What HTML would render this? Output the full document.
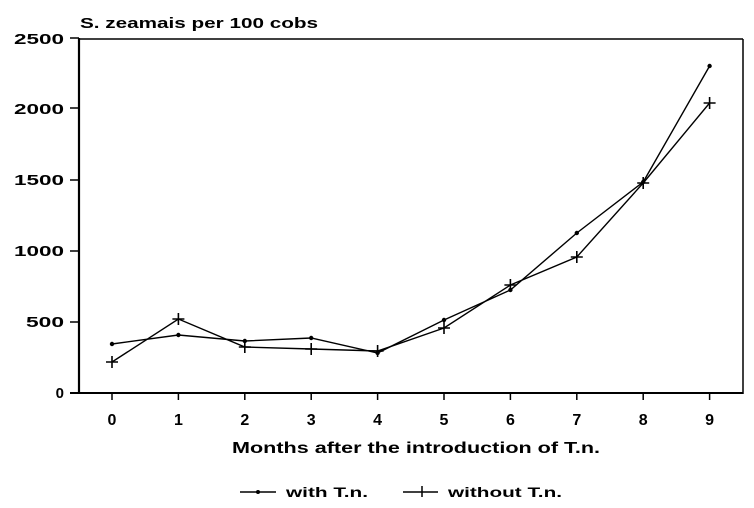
<!DOCTYPE html>
<html>
<head>
<meta charset="utf-8">
<style>
  html, body { margin:0; padding:0; background:#fff; }
  svg { display:block; }
  text { font-family: "Liberation Sans", Arial, sans-serif; font-weight: bold; fill:#000; }
</style>
</head>
<body>
<svg width="754" height="508" viewBox="0 0 754 508" xmlns="http://www.w3.org/2000/svg">
  <!-- title -->
  <text x="80" y="28" font-size="15" textLength="238" lengthAdjust="spacingAndGlyphs">S. zeamais per 100 cobs</text>

  <!-- frame -->
  <line x1="79" y1="38" x2="79" y2="394" stroke="#000" stroke-width="2.2"/>
  <line x1="79" y1="39" x2="743" y2="39" stroke="#000" stroke-width="1.5"/>
  <line x1="743" y1="39" x2="743" y2="394" stroke="#000" stroke-width="1.5"/>
  <line x1="70" y1="393" x2="743" y2="393" stroke="#000" stroke-width="2"/>

  <!-- y ticks -->
  <g stroke="#000" stroke-width="1.5">
    <line x1="70" y1="38" x2="79" y2="38"/>
    <line x1="70" y1="108" x2="79" y2="108"/>
    <line x1="70" y1="180" x2="79" y2="180"/>
    <line x1="70" y1="251" x2="79" y2="251"/>
    <line x1="70" y1="322" x2="79" y2="322"/>
  </g>
  <g font-size="15" text-anchor="end">
    <text x="64" y="44" textLength="50" lengthAdjust="spacingAndGlyphs">2500</text>
    <text x="64" y="114" textLength="50" lengthAdjust="spacingAndGlyphs">2000</text>
    <text x="64" y="185" textLength="50" lengthAdjust="spacingAndGlyphs">1500</text>
    <text x="64" y="256" textLength="50" lengthAdjust="spacingAndGlyphs">1000</text>
    <text x="64" y="327" textLength="38" lengthAdjust="spacingAndGlyphs">500</text>
    <text x="64" y="398">0</text>
  </g>

  <!-- x ticks -->
  <g stroke="#000" stroke-width="1.5">
    <line x1="112" y1="393" x2="112" y2="400"/>
    <line x1="178.4" y1="393" x2="178.4" y2="400"/>
    <line x1="244.8" y1="393" x2="244.8" y2="400"/>
    <line x1="311.2" y1="393" x2="311.2" y2="400"/>
    <line x1="377.6" y1="393" x2="377.6" y2="400"/>
    <line x1="444" y1="393" x2="444" y2="400"/>
    <line x1="510.4" y1="393" x2="510.4" y2="400"/>
    <line x1="576.8" y1="393" x2="576.8" y2="400"/>
    <line x1="643.2" y1="393" x2="643.2" y2="400"/>
    <line x1="709.6" y1="393" x2="709.6" y2="400"/>
  </g>
  <g font-size="16" text-anchor="middle">
    <text x="112" y="425">0</text>
    <text x="178.4" y="425">1</text>
    <text x="244.8" y="425">2</text>
    <text x="311.2" y="425">3</text>
    <text x="377.6" y="425">4</text>
    <text x="444" y="425">5</text>
    <text x="510.4" y="425">6</text>
    <text x="576.8" y="425">7</text>
    <text x="643.2" y="425">8</text>
    <text x="709.6" y="425">9</text>
  </g>

  <text x="232" y="453" font-size="16" textLength="368" lengthAdjust="spacingAndGlyphs">Months after the introduction of T.n.</text>

  <!-- with T.n. -->
  <polyline fill="none" stroke="#000" stroke-width="1.4"
    points="112,344 178.4,335 244.8,341 311.2,338 377.6,353 444,320 510.4,290 576.8,233 643.2,182 709.6,66"/>
  <g fill="#000">
    <circle cx="112" cy="344" r="2.2"/>
    <circle cx="178.4" cy="335" r="2.2"/>
    <circle cx="244.8" cy="341" r="2.2"/>
    <circle cx="311.2" cy="338" r="2.2"/>
    <circle cx="377.6" cy="353" r="2.2"/>
    <circle cx="444" cy="320" r="2.2"/>
    <circle cx="510.4" cy="290" r="2.2"/>
    <circle cx="576.8" cy="233" r="2.2"/>
    <circle cx="643.2" cy="182" r="2.2"/>
    <circle cx="709.6" cy="66" r="2.2"/>
  </g>

  <!-- without T.n. -->
  <polyline fill="none" stroke="#000" stroke-width="1.4"
    points="112,362 178.4,319 244.8,347 311.2,349 377.6,351 444,328 510.4,285 576.8,257 643.2,183 709.6,103"/>
  <g stroke="#000" stroke-width="1.6">
    <path d="M106,362h12M112,356v12"/>
    <path d="M172.4,319h12M178.4,313v12"/>
    <path d="M238.8,347h12M244.8,341v12"/>
    <path d="M305.2,349h12M311.2,343v12"/>
    <path d="M371.6,351h12M377.6,345v12"/>
    <path d="M438,328h12M444,322v12"/>
    <path d="M504.4,285h12M510.4,279v12"/>
    <path d="M570.8,257h12M576.8,251v12"/>
    <path d="M637.2,183h12M643.2,177v12"/>
    <path d="M703.6,103h12M709.6,97v12"/>
  </g>

  <!-- legend -->
  <line x1="240" y1="492" x2="276" y2="492" stroke="#000" stroke-width="1.5"/>
  <circle cx="258" cy="492" r="2" fill="#000"/>
  <text x="286" y="497" font-size="14" textLength="82" lengthAdjust="spacingAndGlyphs">with T.n.</text>
  <line x1="403" y1="492" x2="438" y2="492" stroke="#000" stroke-width="1.5"/>
  <line x1="422" y1="486" x2="422" y2="497" stroke="#000" stroke-width="1.5"/>
  <text x="448" y="497" font-size="14" textLength="114" lengthAdjust="spacingAndGlyphs">without T.n.</text>
</svg>
</body>
</html>
